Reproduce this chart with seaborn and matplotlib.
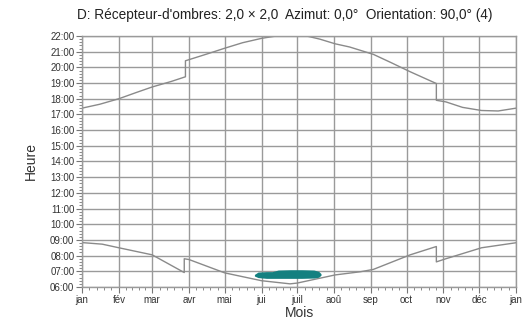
import seaborn as sns
import matplotlib.pyplot as plt
import matplotlib.ticker as mticker
import pandas as pd
import numpy as np

# --- Data (day of year, hour of day) ---
sunset_days = [0, 15, 31, 45, 59, 75, 87, 87, 105, 120, 135, 151, 165, 172, 180,
               190, 200, 213, 225, 245, 260, 276, 298, 298, 306, 320, 336, 350, 365]
sunset_hours = [17.40, 17.65, 18.00, 18.38, 18.75, 19.10, 19.40, 20.42, 20.85, 21.22,
                21.57, 21.85, 22.02, 22.08, 22.05, 21.98, 21.80, 21.50, 21.30, 20.83,
                20.30, 19.72, 18.97, 17.90, 17.80, 17.45, 17.25, 17.22, 17.40]

sunrise_days = [0, 17, 31, 59, 86, 86, 90, 120, 151, 175, 181, 213, 234, 245,
                276, 298, 298, 306, 336, 365]
sunrise_hours = [8.83, 8.73, 8.50, 8.05, 6.92, 7.80, 7.75, 6.90, 6.40, 6.20, 6.25,
                 6.77, 6.97, 7.12, 8.05, 8.58, 7.60, 7.80, 8.50, 8.82]

# shadow period (teal band)
shadow_days = [145, 148, 155, 160, 165, 175, 185, 195, 199, 201]
shadow_low = [6.70, 6.60, 6.55, 6.55, 6.55, 6.55, 6.55, 6.57, 6.62, 6.75]
shadow_high = [6.80, 6.95, 6.98, 6.98, 7.08, 7.10, 7.10, 7.08, 7.00, 6.85]

month_starts = [0, 31, 59, 90, 120, 151, 181, 212, 243, 273, 304, 334, 365]
month_labels = ["jan", "fév", "mar", "avr", "mai", "jui", "juil", "aoû",
                "sep", "oct", "nov", "déc", "jan"]

sunset = pd.DataFrame({"jour": sunset_days, "heure": sunset_hours})
sunrise = pd.DataFrame({"jour": sunrise_days, "heure": sunrise_hours})

sns.set_style("white")
plt.rcParams["font.family"] = ["Liberation Sans", "DejaVu Sans"]

fig = plt.figure(figsize=(5.31, 3.29), dpi=100)
ax = fig.add_axes([0.1544, 0.1277, 0.8174, 0.7629])

line_col = "#8a8a8a"
grid_col = "#9a9a9a"

sns.lineplot(data=sunset, x="jour", y="heure", sort=False, estimator=None,
             color=line_col, linewidth=1.0, ax=ax)
sns.lineplot(data=sunrise, x="jour", y="heure", sort=False, estimator=None,
             color=line_col, linewidth=1.0, ax=ax)
ax.fill_between(shadow_days, shadow_low, shadow_high, color="#148080",
                linewidth=0, zorder=3)

ax.set_xlim(0, 365)
ax.set_ylim(6, 22)

# ticks
ax.set_xticks(month_starts)
ax.set_xticklabels(month_labels)
minor_x = []
for a, b in zip(month_starts[:-1], month_starts[1:]):
    minor_x.extend(np.linspace(a, b, 6)[1:-1])
ax.set_xticks(minor_x, minor=True)

ax.yaxis.set_major_locator(mticker.MultipleLocator(1))
ax.yaxis.set_minor_locator(mticker.MultipleLocator(0.2))
ax.yaxis.set_major_formatter(mticker.FuncFormatter(lambda v, p: f"{int(round(v)):02d}:00"))

ax.tick_params(axis="both", which="both", bottom=True, left=True)
ax.tick_params(axis="both", which="major", direction="out", length=4,
               width=0.8, color="#777777", labelsize=7, labelcolor="#333333", pad=1.5)
ax.tick_params(axis="both", which="minor", direction="out", length=2.5,
               width=0.6, color="#777777")

ax.grid(True, which="major", color=grid_col, linewidth=1.0)
for s in ax.spines.values():
    s.set_color(grid_col)
    s.set_linewidth(1.0)

ax.set_xlabel("Mois", fontsize=10, color="#333333", labelpad=1)
ax.set_ylabel("Heure", fontsize=10, color="#333333", labelpad=9)

fig.text(0.537, 0.955, "D: Récepteur-d'ombres: 2,0 × 2,0  Azimut: 0,0°  Orientation: 90,0° (4)",
         ha="center", va="center", fontsize=9.8, color="#222222")

fig.savefig("out.png", dpi=100)
